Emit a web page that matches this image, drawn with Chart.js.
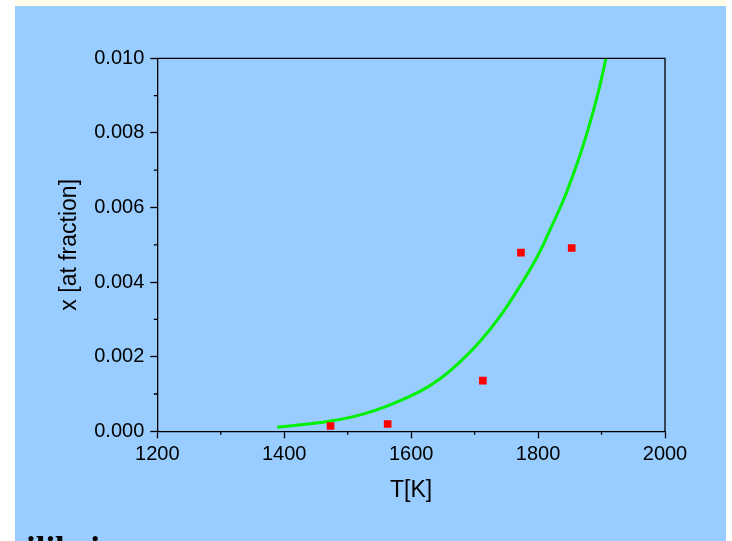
<!DOCTYPE html>
<html>
<head>
<meta charset="utf-8">
<script src="https://cdn.jsdelivr.net/npm/chart.js@4"></script>
<style>
    html, body { margin: 0; padding: 0; background: #ffffff; overflow: hidden; }
    body { width: 732px; height: 541px; position: relative; }
    #strip { position: absolute; left: 15px; top: 0; width: 711px; height: 6px; background: #fffde8; }
    #panel { position: absolute; left: 15px; top: 6px; width: 711px; height: 540px; background: #99ccff; }
    #chart { position: absolute; left: 0; top: 0; }
    #caption { position: absolute; left: 26px; top: 532px; font: bold 35px 'Liberation Serif', serif; line-height: 35px; color: #000; white-space: nowrap; }
</style>
</head>
<body>
<div id="strip"></div>
<div id="panel">
    <canvas id="chart" width="711" height="535"></canvas>
</div>
<div id="caption">ilibrium</div>
<script>
// measured points
const expT = [1473, 1563, 1713, 1773, 1853];
const expX = [0.000142, 0.000196, 0.001357, 0.00479, 0.004914];

// fitted curve
const curveT = [1389, 1430, 1473, 1520, 1563, 1614, 1645, 1677, 1708, 1740, 1771, 1798, 1818, 1837, 1847, 1866, 1881, 1895, 1907];
const curveX = [0.000107, 0.00018, 0.000276, 0.00044, 0.00068, 0.00107, 0.0014, 0.00186, 0.0024, 0.00308, 0.00388, 0.00466, 0.00537, 0.00608, 0.0065, 0.0074, 0.00822, 0.0091, 0.0100];

const xTicks = [1200, 1400, 1600, 1800, 2000];
const yTicks = [0.000, 0.002, 0.004, 0.006, 0.008, 0.010];

const axisColor = '#000000';

// frame on top/right and the short minor ticks between labels
const framePlugin = {
    id: 'frame',
    afterDraw(chart) {
        const ctx = chart.ctx;
        const a = chart.chartArea;
        const xs = chart.scales.x;
        const ys = chart.scales.y;
        ctx.save();
        ctx.strokeStyle = axisColor;
        ctx.lineWidth = 1.3;
        ctx.beginPath();
        ctx.moveTo(a.left, a.top);
        ctx.lineTo(a.right, a.top);
        ctx.lineTo(a.right, a.bottom);
        ctx.stroke();

        ctx.beginPath();
        for (let i = 0; i < xTicks.length - 1; i++) {
            const px = xs.getPixelForValue((xTicks[i] + xTicks[i + 1]) / 2);
            ctx.moveTo(px, a.bottom);
            ctx.lineTo(px, a.bottom + 3.5);
        }
        for (let i = 0; i < yTicks.length - 1; i++) {
            const py = ys.getPixelForValue((yTicks[i] + yTicks[i + 1]) / 2);
            ctx.moveTo(a.left, py);
            ctx.lineTo(a.left - 3.5, py);
        }
        ctx.stroke();
        ctx.restore();
    }
};

const ctx = document.getElementById('chart').getContext('2d');
new Chart(ctx, {
    type: 'scatter',
    data: {
        datasets: [{
            label: 'measured',
            data: expT.map((t, i) => ({ x: t, y: expX[i] })),
            pointStyle: 'rect',
            pointRadius: 5.4,
            pointHoverRadius: 5.4,
            backgroundColor: '#ff0000',
            borderWidth: 0,
            order: 0
        }, {
            label: 'fit',
            data: curveT.map((t, i) => ({ x: t, y: curveX[i] })),
            showLine: true,
            borderColor: '#00f000',
            borderWidth: 3,
            pointRadius: 0,
            pointHoverRadius: 0,
            tension: 0.4,
            fill: false,
            order: 1
        }]
    },
    options: {
        responsive: false,
        animation: false,
        devicePixelRatio: 1,
        layout: { padding: { left: 0, top: 52.3, right: 61, bottom: 0 } },
        plugins: {
            legend: { display: false },
            tooltip: { enabled: false }
        },
        scales: {
            x: {
                type: 'linear',
                min: 1200,
                max: 2000,
                afterFit: scale => { scale.height = 109.7; },
                afterBuildTicks: scale => { scale.ticks = xTicks.map(v => ({ value: v })); },
                ticks: {
                    color: axisColor,
                    padding: 4,
                    maxRotation: 0,
                    font: { family: 'Liberation Sans', size: 20 },
                    callback: v => String(v)
                },
                grid: {
                    drawOnChartArea: false,
                    drawTicks: true,
                    tickLength: 7,
                    tickWidth: 1.3,
                    tickColor: axisColor
                },
                border: { display: true, color: axisColor, width: 1.3 },
                title: {
                    display: true,
                    text: 'T[K]',
                    color: axisColor,
                    font: { family: 'Liberation Sans', size: 23 },
                    padding: { top: 0, bottom: 37 }
                }
            },
            y: {
                type: 'linear',
                min: 0,
                max: 0.01,
                afterFit: scale => { scale.width = 142.3; },
                afterBuildTicks: scale => { scale.ticks = yTicks.map(v => ({ value: v })); },
                ticks: {
                    color: axisColor,
                    padding: 6,
                    font: { family: 'Liberation Sans', size: 20 },
                    callback: v => Number(v).toFixed(3)
                },
                grid: {
                    drawOnChartArea: false,
                    drawTicks: true,
                    tickLength: 7,
                    tickWidth: 1.3,
                    tickColor: axisColor
                },
                border: { display: true, color: axisColor, width: 1.3 },
                title: {
                    display: true,
                    text: 'x [at fraction]',
                    color: axisColor,
                    font: { family: 'Liberation Sans', size: 23 },
                    padding: { top: 41, bottom: 0 }
                }
            }
        }
    },
    plugins: [framePlugin]
});
</script>
</body>
</html>
